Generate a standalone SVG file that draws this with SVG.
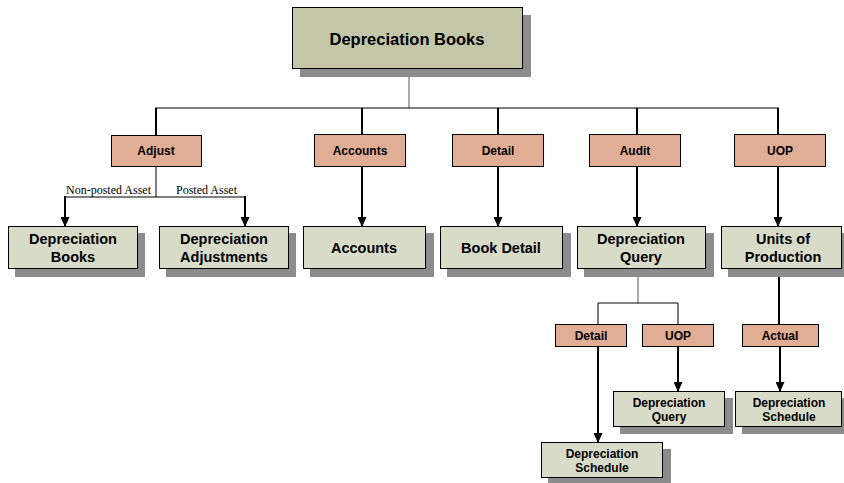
<svg xmlns="http://www.w3.org/2000/svg" width="844" height="483" viewBox="0 0 844 483">
<defs>
<marker id="arr" markerWidth="10" markerHeight="9" refX="9" refY="4.5" orient="auto" markerUnits="userSpaceOnUse" viewBox="0 0 10 9">
<path d="M0,0 L10,4.5 L0,9 Z" fill="#000"/>
</marker>
</defs>
<style>
.sh{fill:#8c8c8c}
.top{fill:#c4c6a8;stroke:#000;stroke-width:1}
.g{fill:#d9dbc9;stroke:#000;stroke-width:1}
.p{fill:#e0ad95;stroke:#000;stroke-width:1}
.t{font-family:"Liberation Sans",Arial,sans-serif;font-weight:bold;fill:#000;text-anchor:middle}
.l1{font-size:12px}
.l2{font-size:14.5px}
.l3{font-size:12px}
.el{font-family:"Liberation Serif","Times New Roman",serif;font-size:12px;fill:#000}
.thin{stroke:#555;stroke-width:1;fill:none}
.th{stroke:#000;stroke-width:1;fill:none}
.thick{stroke:#000;stroke-width:2;fill:none}
.a{stroke:#000;stroke-width:2;fill:none;marker-end:url(#arr)}
</style>
<g id="connectors">
<line class="thin" x1="409" y1="69" x2="409" y2="108"/>
<line class="th" x1="155" y1="108" x2="779" y2="108"/>
<line class="thick" x1="156" y1="108" x2="156" y2="135"/>
<line class="thick" x1="362" y1="108" x2="362" y2="134"/>
<line class="thick" x1="498" y1="108" x2="498" y2="134"/>
<line class="thick" x1="637" y1="108" x2="637" y2="134"/>
<line class="thick" x1="778" y1="108" x2="778" y2="134"/>
<line class="th" x1="156" y1="166" x2="156" y2="197"/>
<polyline class="th" points="65,197 245,197"/>
<line class="a" x1="65" y1="196" x2="65" y2="226"/>
<line class="a" x1="245" y1="196" x2="245" y2="226"/>
<text class="el" x="151" y="194" text-anchor="end">Non-posted Asset</text>
<text class="el" x="176" y="194">Posted Asset</text>
<line class="a" x1="362" y1="166" x2="362" y2="226"/>
<line class="a" x1="498" y1="166" x2="498" y2="226"/>
<line class="a" x1="637" y1="166" x2="637" y2="226"/>
<line class="a" x1="778" y1="166" x2="778" y2="226"/>
<line class="thin" x1="638" y1="269" x2="638" y2="303"/>
<polyline class="th" points="598,324 598,303 678,303 678,324"/>
<line class="thick" x1="779" y1="269" x2="779" y2="324"/>
<line class="a" x1="598" y1="346" x2="598" y2="442"/>
<line class="a" x1="678" y1="346" x2="678" y2="391"/>
<line class="a" x1="780" y1="346" x2="780" y2="391"/>
</g>
<g id="n-top">
<rect class="sh" x="300" y="15" width="231" height="62"/>
<rect class="top" x="292.5" y="7.5" width="230" height="61"/>
<text class="t" x="407" y="45" font-size="16.5">Depreciation Books</text>
</g>
<g id="n-adjust"><rect class="p" x="111.5" y="135.5" width="90" height="31"/><text class="t l1" x="156" y="155">Adjust</text></g>
<g id="n-accounts-l"><rect class="p" x="314.5" y="134.5" width="91" height="32"/><text class="t l1" x="360" y="155">Accounts</text></g>
<g id="n-detail-l"><rect class="p" x="452.5" y="134.5" width="91" height="32"/><text class="t l1" x="498" y="155">Detail</text></g>
<g id="n-audit-l"><rect class="p" x="589.5" y="134.5" width="91" height="32"/><text class="t l1" x="635" y="155">Audit</text></g>
<g id="n-uop-l"><rect class="p" x="734.5" y="134.5" width="91" height="32"/><text class="t l1" x="780" y="155">UOP</text></g>
<g id="n-depbooks"><rect class="sh" x="15" y="233" width="130" height="44"/><rect class="g" x="8.5" y="226.5" width="129" height="42"/><text class="t l2" x="73" y="244">Depreciation</text><text class="t l2" x="73" y="262">Books</text></g>
<g id="n-depadj"><rect class="sh" x="166" y="233" width="130" height="44"/><rect class="g" x="159.5" y="226.5" width="129" height="42"/><text class="t l2" x="224" y="244">Depreciation</text><text class="t l2" x="224" y="262">Adjustments</text></g>
<g id="n-accounts"><rect class="sh" x="310" y="233" width="124" height="44"/><rect class="g" x="303.5" y="226.5" width="122" height="42"/><text class="t l2" x="364" y="253">Accounts</text></g>
<g id="n-bookdetail"><rect class="sh" x="447" y="233" width="124" height="44"/><rect class="g" x="440.5" y="226.5" width="122" height="42"/><text class="t l2" x="501" y="253">Book Detail</text></g>
<g id="n-depquery"><rect class="sh" x="584" y="233" width="130" height="44"/><rect class="g" x="577.5" y="226.5" width="128" height="42"/><text class="t l2" x="641" y="244">Depreciation</text><text class="t l2" x="641" y="262">Query</text></g>
<g id="n-uop"><rect class="sh" x="728" y="233" width="120" height="44"/><rect class="g" x="721.5" y="226.5" width="120" height="42"/><text class="t l2" x="783" y="244">Units of</text><text class="t l2" x="783" y="262">Production</text></g>
<g id="n-detail2"><rect class="p" x="555.5" y="324.5" width="71" height="22"/><text class="t l1" x="591" y="340">Detail</text></g>
<g id="n-uop2"><rect class="p" x="642.5" y="324.5" width="71" height="22"/><text class="t l1" x="678" y="340">UOP</text></g>
<g id="n-actual"><rect class="p" x="742.5" y="324.5" width="76" height="22"/><text class="t l1" x="780" y="340">Actual</text></g>
<g id="n-depquery2"><rect class="sh" x="620" y="398" width="113" height="36"/><rect class="g" x="613.5" y="391.5" width="111" height="35"/><text class="t l3" x="669" y="407">Depreciation</text><text class="t l3" x="669" y="421">Query</text></g>
<g id="n-depsched2"><rect class="sh" x="742" y="398" width="110" height="36"/><rect class="g" x="735.5" y="391.5" width="106" height="35"/><text class="t l3" x="789" y="407">Depreciation</text><text class="t l3" x="789" y="421">Schedule</text></g>
<g id="n-depsched1"><rect class="sh" x="548" y="449" width="123" height="34"/><rect class="g" x="541.5" y="442.5" width="121" height="35"/><text class="t l3" x="602" y="458">Depreciation</text><text class="t l3" x="602" y="472">Schedule</text></g>
</svg>
